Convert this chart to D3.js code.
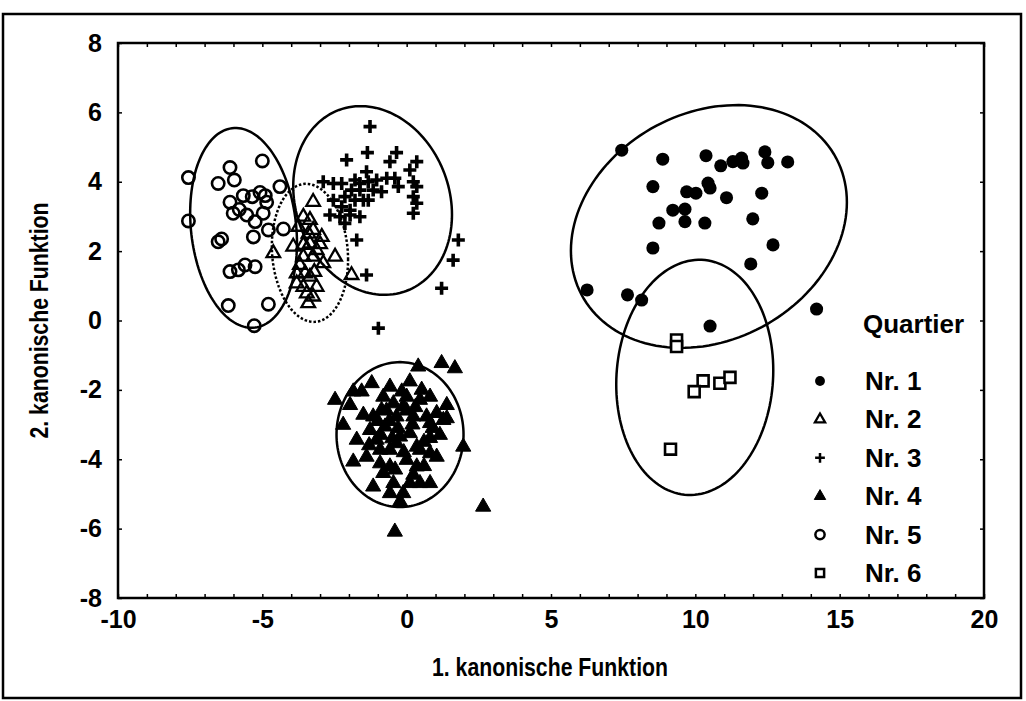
<!DOCTYPE html>
<html>
<head>
<meta charset="utf-8">
<script src="https://cdn.jsdelivr.net/npm/d3@7"></script>
<style>
body { margin: 0; background: #fff; }
svg { display: block; }
text { font-family: "Liberation Sans", Arial, sans-serif; font-weight: bold; fill: #000; }
</style>
</head>
<body>
<div id="chart"></div>
<script>
// axis ticks
const xTicks = [-10, -5, 0, 5, 10, 15, 20];
const yTicks = [-8, -6, -4, -2, 0, 2, 4, 6, 8];

// group labels
const groupLabels = ["Nr. 1", "Nr. 2", "Nr. 3", "Nr. 4", "Nr. 5", "Nr. 6"];

// discriminant scores per Quartier [x, y]
const nr1Points = [[7.45,4.91],[8.87,4.65],[10.37,4.75],[10.88,4.46],[11.30,4.58],[11.60,4.68],[11.65,4.54],[12.41,4.86],
    [12.51,4.55],[13.20,4.57],[8.53,3.86],[9.70,3.71],[10.02,3.67],[10.44,3.96],[10.51,3.82],[11.08,3.54],[12.30,3.67],
    [9.22,3.18],[9.64,3.21],[9.64,2.85],[8.74,2.81],[10.33,2.81],[11.99,2.93],[8.53,2.09],[12.69,2.18],[11.92,1.63],
    [6.25,0.88],[7.65,0.74],[8.14,0.59],[14.20,0.33],[10.51,-0.16]];

const nr2Points = [[-3.24,3.42],[-3.58,2.99],[-3.35,2.90],[-3.75,2.70],[-3.24,2.61],[-2.94,2.41],[-3.93,2.13],[-3.58,2.18],
    [-3.35,2.22],[-3.12,2.03],[-4.62,1.94],[-3.58,1.84],[-3.24,1.84],[-2.89,1.65],[-2.48,1.84],[-3.81,1.36],[-3.52,1.36],
    [-3.35,1.26],[-3.81,1.07],[-3.58,0.97],[-3.12,0.97],[-3.46,0.78],[-3.24,0.69],[-3.41,0.50],[-1.91,1.31],
    [-3.40,2.50],[-3.00,2.20],[-3.70,1.60],[-3.20,1.40]];

const nr3Points = [[-1.27,5.59],[-2.08,4.63],[-1.36,4.84],[-0.35,4.84],[-0.58,4.58],[0.35,4.58],[0.11,4.34],[-1.39,4.29],
    [-2.89,4.00],[-2.54,3.95],[-2.25,3.95],[-1.79,4.05],[-1.62,3.95],[-1.33,4.00],[-1.04,4.05],[-0.69,4.10],[-0.41,4.10],
    [0.23,4.00],[0.35,3.86],[-0.29,3.86],[-1.91,3.76],[-1.62,3.76],[-1.16,3.76],[-0.87,3.71],[-2.14,3.57],[-1.79,3.47],
    [-1.50,3.47],[-1.33,3.47],[0.23,3.57],[0.35,3.38],[0.23,3.09],[-2.54,3.47],[-2.25,3.28],[-1.96,3.18],[-2.66,3.04],
    [-2.31,2.99],[-1.96,3.04],[-1.62,2.99],[-2.14,2.80],[-1.73,2.32],[-1.39,1.31],[1.79,2.32],[1.61,1.74],[1.21,0.93],
    [-0.98,-0.22]];

const nr4Points = [[-2.48,-2.29],[-2.20,-3.01],[0.40,-1.33],[1.21,-1.23],[1.67,-1.38],[1.96,-3.64],[2.65,-5.37],[-0.41,-6.09],
    [-1.85,-2.05],[-1.56,-2.05],[-1.21,-1.81],[-1.96,-2.44],[-1.50,-2.72],[-1.73,-3.44],[-1.85,-4.07],[-1.39,-3.93],
    [-0.58,-1.91],[-0.17,-2.05],[0.11,-1.76],[0.52,-2.00],[0.81,-2.20],[1.39,-2.44],[1.27,-2.87],[1.15,-3.30],[0.81,-3.39],
    [1.04,-3.93],[0.81,-4.69],[0.23,-4.45],[-0.12,-4.98],[-0.58,-4.98],[-1.16,-4.79],[-0.23,-5.22],[-0.46,-4.69],
    [-0.92,-4.12],[-0.58,-3.73],[-1.04,-3.44],[-0.75,-3.06],[-0.87,-2.58],[-0.46,-2.39],[-0.12,-2.48],[0.23,-2.77],
    [0.46,-2.29],[0.11,-3.25],[-0.23,-3.35],[0.46,-3.73],[0.00,-4.02],[0.35,-4.21],[0.69,-2.77],[-1.16,-2.77],[-1.27,-3.16],
    [-0.35,-2.77],[-0.58,-4.21],[0.81,-2.96],[1.04,-2.67],[1.39,-2.82],[0.00,-2.20],[-0.81,-2.20],[0.35,-3.64],[0.81,-3.83],
    [0.46,-4.69],[0.11,-4.69],[-0.81,-4.40],[-0.35,-3.54],[-0.92,-3.73],[-0.60,-2.90],[-0.30,-3.10],[0.20,-3.00],
    [-0.90,-3.30],[-0.10,-3.80],[0.60,-3.50],[-0.50,-3.40],[-1.00,-2.90],[0.30,-2.50],[-0.70,-2.60],[0.00,-2.60],
    [-0.40,-4.30],[0.60,-4.20],[-1.30,-3.60],[0.90,-3.10]];

const nr5Points = [[-7.56,4.12],[-5.00,4.60],[-6.12,4.41],[-6.53,3.95],[-5.97,4.05],[-7.56,2.87],[-5.66,3.60],[-5.35,3.57],
    [-5.08,3.69],[-4.85,3.41],[-6.12,3.41],[-6.01,3.09],[-5.54,3.04],[-5.25,2.85],[-4.97,3.09],[-4.39,3.86],[-4.79,2.61],
    [-5.31,2.41],[-6.53,2.27],[-6.41,2.35],[-4.27,2.64],[-6.12,1.41],[-5.83,1.46],[-5.60,1.60],[-5.25,1.55],[-6.18,0.43],
    [-4.79,0.47],[-5.28,-0.15],[-5.80,3.20],[-4.90,3.60]];

const nr6Points = [[9.35,-0.56],[9.35,-0.75],[10.27,-1.74],[9.96,-2.05],[10.85,-1.81],[11.20,-1.64],[9.14,-3.71]];

// group ellipses: centre, spread in x and y, correlation
const ellipseCx = [10.47, -3.35, -1.18, -0.23, -5.65, 9.98];
const ellipseCy = [2.71, 1.95, 3.46, -3.29, 2.67, -1.64];
const ellipseSx = [4.78, 1.32, 2.75, 2.20, 1.85, 2.72];
const ellipseSy = [3.50, 1.99, 2.72, 2.09, 2.88, 3.39];
const ellipseR = [0.20, -0.10, -0.15, 0.00, -0.15, 0.06];

const width = 1026, height = 701;
const margin = { top: 43, right: 42, bottom: 103, left: 118 };

const svg = d3.select("#chart").append("svg")
    .attr("width", width)
    .attr("height", height);

const x = d3.scaleLinear().domain([-10, 20]).range([margin.left, width - margin.right]);
const y = d3.scaleLinear().domain([-8, 8]).range([height - margin.bottom, margin.top]);

// squeeze a text horizontally, the original uses a narrow bold face
function narrow(sel, len) {
    sel.each(function () {
        d3.select(this).attr("textLength", len).attr("lengthAdjust", "spacingAndGlyphs");
    });
}

// outer frame
svg.append("rect")
    .attr("x", 3).attr("y", 14)
    .attr("width", 1018).attr("height", 684)
    .attr("fill", "none").attr("stroke", "#000").attr("stroke-width", 2.5);

// minor inward ticks on all sides
const g = svg.append("g");
g.append("g")
    .attr("transform", `translate(0,${y(-8)})`)
    .call(d3.axisBottom(x).ticks(30).tickSize(-4).tickFormat(""))
    .call(a => a.select(".domain").remove());
g.append("g")
    .attr("transform", `translate(0,${y(8)})`)
    .call(d3.axisTop(x).ticks(30).tickSize(-4).tickFormat(""))
    .call(a => a.select(".domain").remove());
g.append("g")
    .attr("transform", `translate(${x(-10)},0)`)
    .call(d3.axisLeft(y).tickValues(yTicks).tickSize(-4).tickFormat(""))
    .call(a => a.select(".domain").remove());
g.append("g")
    .attr("transform", `translate(${x(20)},0)`)
    .call(d3.axisRight(y).tickValues(yTicks).tickSize(-4).tickFormat(""))
    .call(a => a.select(".domain").remove());
g.selectAll(".tick line").attr("stroke-width", 1.5);

// tick labels
svg.append("g")
    .attr("transform", `translate(0,${y(-8)})`)
    .call(d3.axisBottom(x).tickValues(xTicks).tickSize(0).tickPadding(12).tickFormat(d => String(d)))
    .call(a => a.select(".domain").remove())
    .selectAll("text")
    .style("font-size", "25px");

svg.append("g")
    .attr("transform", `translate(${x(-10)},0)`)
    .call(d3.axisLeft(y).tickValues(yTicks).tickSize(0).tickPadding(16).tickFormat(d => String(d)))
    .call(a => a.select(".domain").remove())
    .selectAll("text")
    .style("font-size", "25px");

// plot frame
svg.append("rect")
    .attr("x", x(-10)).attr("y", y(8))
    .attr("width", x(20) - x(-10)).attr("height", y(-8) - y(8))
    .attr("fill", "none").attr("stroke", "#000").attr("stroke-width", 2.5);

// axis titles
svg.append("text")
    .attr("x", 550).attr("y", 676)
    .attr("text-anchor", "middle")
    .style("font-size", "25px")
    .text("1. kanonische Funktion")
    .call(narrow, 236);

svg.append("text")
    .attr("transform", `translate(48,${y(0)}) rotate(-90)`)
    .attr("text-anchor", "middle")
    .style("font-size", "25px")
    .text("2. kanonische Funktion")
    .call(narrow, 236);

// ellipses
const line = d3.line().x(d => x(d[0])).y(d => y(d[1])).curve(d3.curveLinearClosed);
function ellipsePath(i) {
    const pts = [];
    const r = ellipseR[i];
    for (let k = 0; k < 144; k++) {
        const t = 2 * Math.PI * k / 144;
        pts.push([
            ellipseCx[i] + ellipseSx[i] * Math.cos(t),
            ellipseCy[i] + ellipseSy[i] * (r * Math.cos(t) + Math.sqrt(1 - r * r) * Math.sin(t))
        ]);
    }
    return line(pts);
}

svg.append("g").selectAll("path")
    .data(d3.range(6))
    .enter()
    .append("path")
    .attr("d", i => ellipsePath(i))
    .attr("fill", "none")
    .attr("stroke", "#000")
    .attr("stroke-width", 2.5)
    .attr("stroke-dasharray", i => i === 1 ? "2.5,2" : null);

// marker styles
const markers = [
    { shape: d3.symbolCircle, size: 135, fill: "#000", stroke: "none", sw: 0 },
    { shape: d3.symbolTriangle, size: 80, fill: "none", stroke: "#000", sw: 2.3 },
    { shape: "plus", size: 6.5, fill: "none", stroke: "#000", sw: 3.6 },
    { shape: d3.symbolTriangle, size: 100, fill: "#000", stroke: "#000", sw: 1 },
    { shape: d3.symbolCircle, size: 120, fill: "none", stroke: "#000", sw: 2.6 },
    { shape: d3.symbolSquare, size: 120, fill: "#fff", stroke: "#000", sw: 2.6 }
];
function markerPath(m, scale) {
    if (m.shape === "plus") {
        const h = m.size * scale;
        return `M${-h},0H${h}M0,${-h}V${h}`;
    }
    return d3.symbol().type(m.shape).size(m.size * scale * scale)();
}

const groups = [nr1Points, nr2Points, nr3Points, nr4Points, nr5Points, nr6Points];
const drawOrder = [4, 2, 1, 3, 0, 5];
drawOrder.forEach(gi => {
    const m = markers[gi];
    svg.append("g").selectAll("path")
        .data(groups[gi])
        .enter()
        .append("path")
        .attr("transform", d => `translate(${x(d[0])},${y(d[1])})`)
        .attr("d", markerPath(m, 1))
        .attr("fill", m.fill)
        .attr("stroke", m.stroke)
        .attr("stroke-width", m.sw);
});

// legend
const legend = svg.append("g");
legend.append("text")
    .attr("x", 863).attr("y", 333)
    .style("font-size", "26px")
    .text("Quartier");

const legendY = d3.scalePoint().domain(groupLabels).range([381, 573]);
groupLabels.forEach((lab, i) => {
    const m = markers[i];
    legend.append("path")
        .attr("transform", `translate(820,${legendY(lab)})`)
        .attr("d", markerPath(m, 0.75))
        .attr("fill", m.fill)
        .attr("stroke", m.stroke)
        .attr("stroke-width", Math.min(m.sw, 2.5));
    legend.append("text")
        .attr("x", 865).attr("y", legendY(lab) + 9)
        .style("font-size", "26px")
        .text(lab);
});
</script>
</body>
</html>
